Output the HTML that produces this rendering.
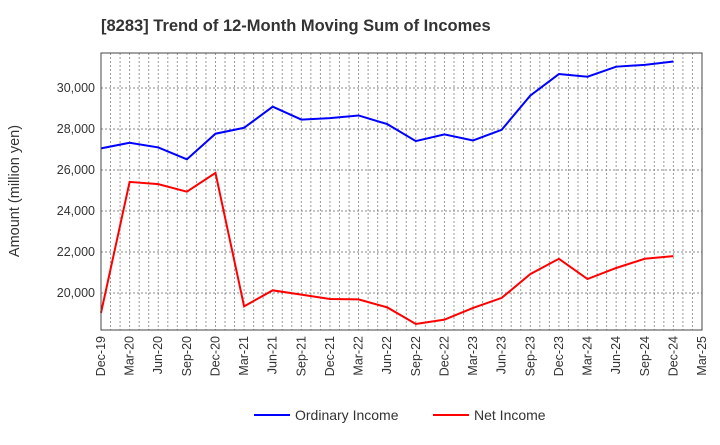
<!DOCTYPE html>
<html><head><meta charset="utf-8"><style>
body{margin:0;background:#fff;font-family:"Liberation Sans",Arial,sans-serif}
svg text{font-family:"Liberation Sans",Arial,sans-serif}
</style></head><body>
<svg id="c" width="720" height="440" xmlns="http://www.w3.org/2000/svg">
<text x="101" y="31" font-size="16.5" font-weight="bold" fill="#333">[8283]  Trend of 12-Month Moving Sum of Incomes</text>
<text transform="translate(19,191) rotate(-90)" text-anchor="middle" font-size="14.5" fill="#333">Amount (million yen)</text>
<g id="grid"></g><g id="ticks"></g><g id="series"></g>
<rect x="101" y="53" width="601" height="277" fill="none" stroke="#444" stroke-width="1"/>
<g>
<line x1="254" y1="415" x2="290" y2="415" stroke="#0000ff" stroke-width="2"/>
<text x="295" y="420" font-size="14" fill="#333">Ordinary Income</text>
<line x1="433" y1="415" x2="469" y2="415" stroke="#ff0000" stroke-width="2"/>
<text x="474" y="420" font-size="14" fill="#333">Net Income</text>
</g>
</svg>
<script>
const xLabels=["Dec-19","Mar-20","Jun-20","Sep-20","Dec-20","Mar-21","Jun-21","Sep-21","Dec-21","Mar-22","Jun-22","Sep-22","Dec-22","Mar-23","Jun-23","Sep-23","Dec-23","Mar-24","Jun-24","Sep-24","Dec-24","Mar-25"];
const yTicks=[20000,22000,24000,26000,28000,30000];
const ordinaryIncome=[27055,27330,27100,26520,27770,28060,29090,28460,28530,28660,28240,27410,27735,27440,27960,29630,30680,30550,31040,31130,31290];
const netIncome=[19030,25420,25310,24940,25860,19350,20130,19920,19710,19690,19300,18490,18700,19270,19760,20920,21670,20680,21220,21670,21800];
const NS="http://www.w3.org/2000/svg";
const L=101,R=702,T=53,B=330;
const nSteps=xLabels.length-1;
const x=i=>L+i*(R-L)/nSteps;
const y=v=>293-(v-20000)*41/2000;
function mk(t,a,p){const e=document.createElementNS(NS,t);for(const k in a)e.setAttribute(k,a[k]);p.appendChild(e);return e;}
const grid=document.getElementById('grid'),ticks=document.getElementById('ticks'),series=document.getElementById('series');
for(let m=1;m<nSteps*3;m++){const xx=L+m*(R-L)/(nSteps*3);
 const g=mk('line',{x1:xx,x2:xx,y1:T,y2:B,stroke:'#999','stroke-width':1,'stroke-dasharray':'2,2'},grid);
 
 }
yTicks.forEach(v=>{const yy=y(v);
 const g=mk('line',{x1:L,x2:R,y1:yy,y2:yy,stroke:'#888','stroke-width':1,'stroke-dasharray':'2,2'},grid);
 
 
 const t=mk('text',{x:L-6,y:yy+4,'text-anchor':'end','font-size':12.5,fill:'#333'},ticks);
 t.textContent=v.toLocaleString('en-US');
 
 });
xLabels.forEach((s,i)=>{const xx=x(i);
 const t=mk('text',{transform:`translate(${xx+4},336) rotate(-90)`,'text-anchor':'end','font-size':12.5,fill:'#333'},ticks);
 t.textContent=s;
 
 });
function line(d,c,n){const p=mk('polyline',{points:d.map((v,i)=>x(i)+','+y(v)).join(' '),fill:'none',stroke:c,'stroke-width':2},series);
 
 }
line(ordinaryIncome,'#0000ff','ordinary-income-line');
line(netIncome,'#ff0000','net-income-line');
</script>
</body></html>
